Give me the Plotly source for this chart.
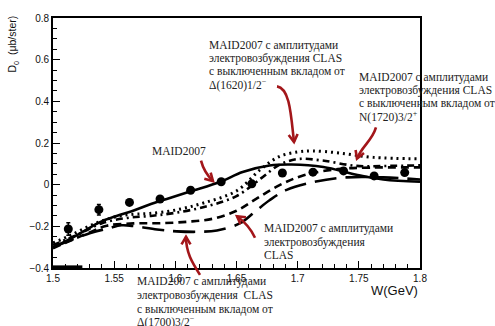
import math
import plotly.graph_objects as go

# Measured structure function D0 vs W
w_data = [1.5125, 1.5375, 1.5625, 1.5875, 1.6125, 1.6375, 1.6625, 1.6875,
          1.7125, 1.7375, 1.7625, 1.7875]
d0_data = [-0.213, -0.120, -0.085, -0.069, -0.027, 0.014, 0.004, 0.056,
           0.060, 0.066, 0.042, 0.058]
d0_err = [0.030, 0.025, 0.014, 0.012, 0.012, 0.012, 0.012, 0.012,
          0.012, 0.012, 0.012, 0.012]

# MAID2007
w_maid = [1.500, 1.514, 1.525, 1.538, 1.552, 1.566, 1.579, 1.593, 1.612, 1.637,
          1.655, 1.677, 1.695, 1.721, 1.748, 1.770, 1.800]
d0_maid = [-0.302, -0.260, -0.224, -0.181, -0.150, -0.124, -0.095, -0.069, -0.033,
           0.014, 0.061, 0.092, 0.097, 0.085, 0.048, 0.025, 0.014]

# MAID2007 + CLAS amplitudes, Delta(1620)1/2- switched off
w_d1620 = [1.500, 1.514, 1.533, 1.552, 1.566, 1.579, 1.600, 1.623, 1.650, 1.670,
           1.685, 1.700, 1.712, 1.734, 1.762, 1.800]
d0_d1620 = [-0.280, -0.244, -0.190, -0.153, -0.142, -0.138, -0.122, -0.088, -0.030,
            0.075, 0.135, 0.157, 0.162, 0.152, 0.131, 0.124]

# MAID2007 + CLAS amplitudes, N(1720)3/2+ switched off
w_n1720 = [1.500, 1.520, 1.540, 1.560, 1.580, 1.600, 1.625, 1.650, 1.670, 1.685,
           1.700, 1.720, 1.748, 1.775, 1.800]
d0_n1720 = [-0.290, -0.240, -0.185, -0.160, -0.150, -0.135, -0.105, -0.055, 0.030,
            0.095, 0.123, 0.116, 0.090, 0.090, 0.093]

# MAID2007 + CLAS amplitudes
w_clas = [1.500, 1.530, 1.544, 1.566, 1.587, 1.610, 1.631, 1.650, 1.667, 1.686,
          1.705, 1.733, 1.760, 1.800]
d0_clas = [-0.305, -0.229, -0.197, -0.186, -0.185, -0.178, -0.163, -0.125, -0.065,
           0.000, 0.045, 0.075, 0.082, 0.083]

# MAID2007 + CLAS amplitudes, Delta(1700)3/2- switched off
w_d1700 = [1.500, 1.530, 1.545, 1.556, 1.565, 1.585, 1.601, 1.620, 1.634, 1.653,
           1.665, 1.677, 1.691, 1.715, 1.740, 1.770, 1.800]
d0_d1700 = [-0.300, -0.233, -0.210, -0.195, -0.198, -0.215, -0.224, -0.226, -0.220,
            -0.185, -0.130, -0.075, -0.025, 0.015, 0.035, 0.035, 0.025]

# short histogram stub sitting on the lower axis
hist_w = [1.5, 1.524]
hist_y = [-0.397, -0.397]

x_ticks = [1.5, 1.55, 1.6, 1.65, 1.7, 1.75, 1.8]
y_ticks = [-0.4, -0.2, 0, 0.2, 0.4, 0.6, 0.8]

W, H = 495, 326
L, R, T, B = 53, 420, 12, 268
RED = "#a3161a"
SERIF = "Liberation Serif, Times New Roman, serif"
SANS = "Liberation Sans, Arial, sans-serif"


def px(x):
    return (x - L) / (R - L)


def py(y):
    return (B - y) / (B - T)


fig = go.Figure()

line_specs = [
    (w_maid, d0_maid, "solid", 2.6),
    (w_d1620, d0_d1620, "2px,4px", 3.0),
    (w_n1720, d0_n1720, "7px,4px,2px,4px", 2.6),
    (w_clas, d0_clas, "8px,5px", 2.6),
    (w_d1700, d0_d1700, "22px,9px", 2.6),
]
for xs, ys, dash, lw in line_specs:
    fig.add_trace(go.Scatter(x=xs, y=ys, mode="lines", line_shape="spline",
                             line=dict(color="black", width=lw, dash=dash),
                             showlegend=False, hoverinfo="skip"))

fig.add_trace(go.Scatter(x=hist_w, y=hist_y, mode="lines",
                         line=dict(color="black", width=4),
                         showlegend=False, hoverinfo="skip", cliponaxis=False))

fig.add_trace(go.Scatter(x=w_data, y=d0_data, mode="markers",
                         marker=dict(color="black", size=9),
                         error_y=dict(type="data", array=d0_err, color="black",
                                      thickness=1.5, width=2),
                         showlegend=False))

# multi-line labels (one annotation per line for tight leading)
labels = [
    (207, [40, 53.5, 67, 80], ["MAID2007 с амплитудами",
                               "электровозбуждения CLAS",
                               "с выключенным вкладом от",
                               "Δ(1620)1/2<sup>−</sup>"]),
    (357, [73, 86.5, 100, 113], ["MAID2007 с амплитудами",
                                 "электровозбуждения CLAS",
                                 "с выключенным вкладом от",
                                 "N(1720)3/2<sup>+</sup>"]),
    (150, [148], ["MAID2007"]),
    (262, [228, 241.5, 255], ["MAID2007 с амплитудами",
                              "электровозбуждения",
                              "CLAS"]),
    (135, [282, 296, 310, 323], ["MAID2007 с амплитудами",
                                 "электровозбуждения  CLAS",
                                 "с выключенным вкладом от",
                                 "Δ(1700)3/2<sup>−</sup>"]),
]
for x0, ys, texts in labels:
    for yy, t in zip(ys, texts):
        fig.add_annotation(x=px(x0), y=py(yy), xref="paper", yref="paper",
                           xanchor="left", yanchor="middle", text=t,
                           showarrow=False,
                           font=dict(family=SERIF, size=11.5, color="#222"))

# curved red arrows: (start, ctrl1, ctrl2, tip) in pixels
arrows = [
    ((201, 158), (203, 166), (206, 172), (213, 179)),
    ((277, 82), (290, 84), (291, 112), (294, 139)),
    ((376, 124), (372, 138), (362, 143), (357, 156)),
    ((255, 237), (251, 228), (245, 221), (237, 215)),
    ((200, 275), (192, 262), (186, 252), (186, 236)),
]
for (s, c1, c2, tip) in arrows:
    path = "M {} {} C {} {}, {} {}, {} {}".format(
        px(s[0]), py(s[1]), px(c1[0]), py(c1[1]),
        px(c2[0]), py(c2[1]), px(tip[0]), py(tip[1]))
    fig.add_shape(type="path", path=path, xref="paper", yref="paper",
                  line=dict(color=RED, width=2.6))
    ang = math.atan2(tip[1] - c2[1], tip[0] - c2[0])
    arm = 9
    pts = []
    for da in (math.radians(150), -math.radians(150)):
        pts.append((tip[0] + arm * math.cos(ang + da), tip[1] + arm * math.sin(ang + da)))
    head = "M {} {} L {} {} L {} {}".format(
        px(pts[0][0]), py(pts[0][1]), px(tip[0]), py(tip[1]),
        px(pts[1][0]), py(pts[1][1]))
    fig.add_shape(type="path", path=head, xref="paper", yref="paper",
                  line=dict(color=RED, width=2.6))

# axis titles
fig.add_annotation(x=px(420), y=py(291), xref="paper", yref="paper",
                   xanchor="right", yanchor="middle", text="W(GeV)",
                   showarrow=False, font=dict(family=SANS, size=13, color="#111"))
fig.add_annotation(x=px(13), y=py(8), xref="paper", yref="paper",
                   xanchor="center", yanchor="top", textangle=-90,
                   text="D<sub>0</sub>  (μb/ster)", showarrow=False,
                   font=dict(family=SANS, size=10.5, color="#111"))

fig.update_xaxes(range=[1.5, 1.8], tickvals=x_ticks,
                 ticktext=[f"{v:g}" for v in x_ticks],
                 ticks="inside", ticklen=7, tickwidth=1.2, tickcolor="black",
                 minor=dict(ticks="inside", ticklen=4, dtick=0.01, tick0=1.5,
                            tickcolor="black", tickwidth=1),
                 showline=True, linecolor="black", linewidth=1.6, mirror=True,
                 showgrid=False, zeroline=False,
                 tickfont=dict(family=SANS, size=10, color="#111"))
fig.update_yaxes(range=[-0.4, 0.8], tickvals=y_ticks,
                 ticktext=[("−" if v < 0 else "") + f"{abs(v):g}" for v in y_ticks],
                 ticks="inside", ticklen=7, tickwidth=1.2, tickcolor="black",
                 minor=dict(ticks="inside", ticklen=4, dtick=0.05, tick0=0,
                            tickcolor="black", tickwidth=1),
                 showline=True, linecolor="black", linewidth=1.6, mirror=True,
                 showgrid=False, zeroline=False,
                 tickfont=dict(family=SANS, size=10, color="#111"))

fig.update_layout(width=W, height=H, margin=dict(l=L, r=W - R, t=T, b=H - B),
                  paper_bgcolor="white", plot_bgcolor="white", showlegend=False)

fig.write_html("out.html")
